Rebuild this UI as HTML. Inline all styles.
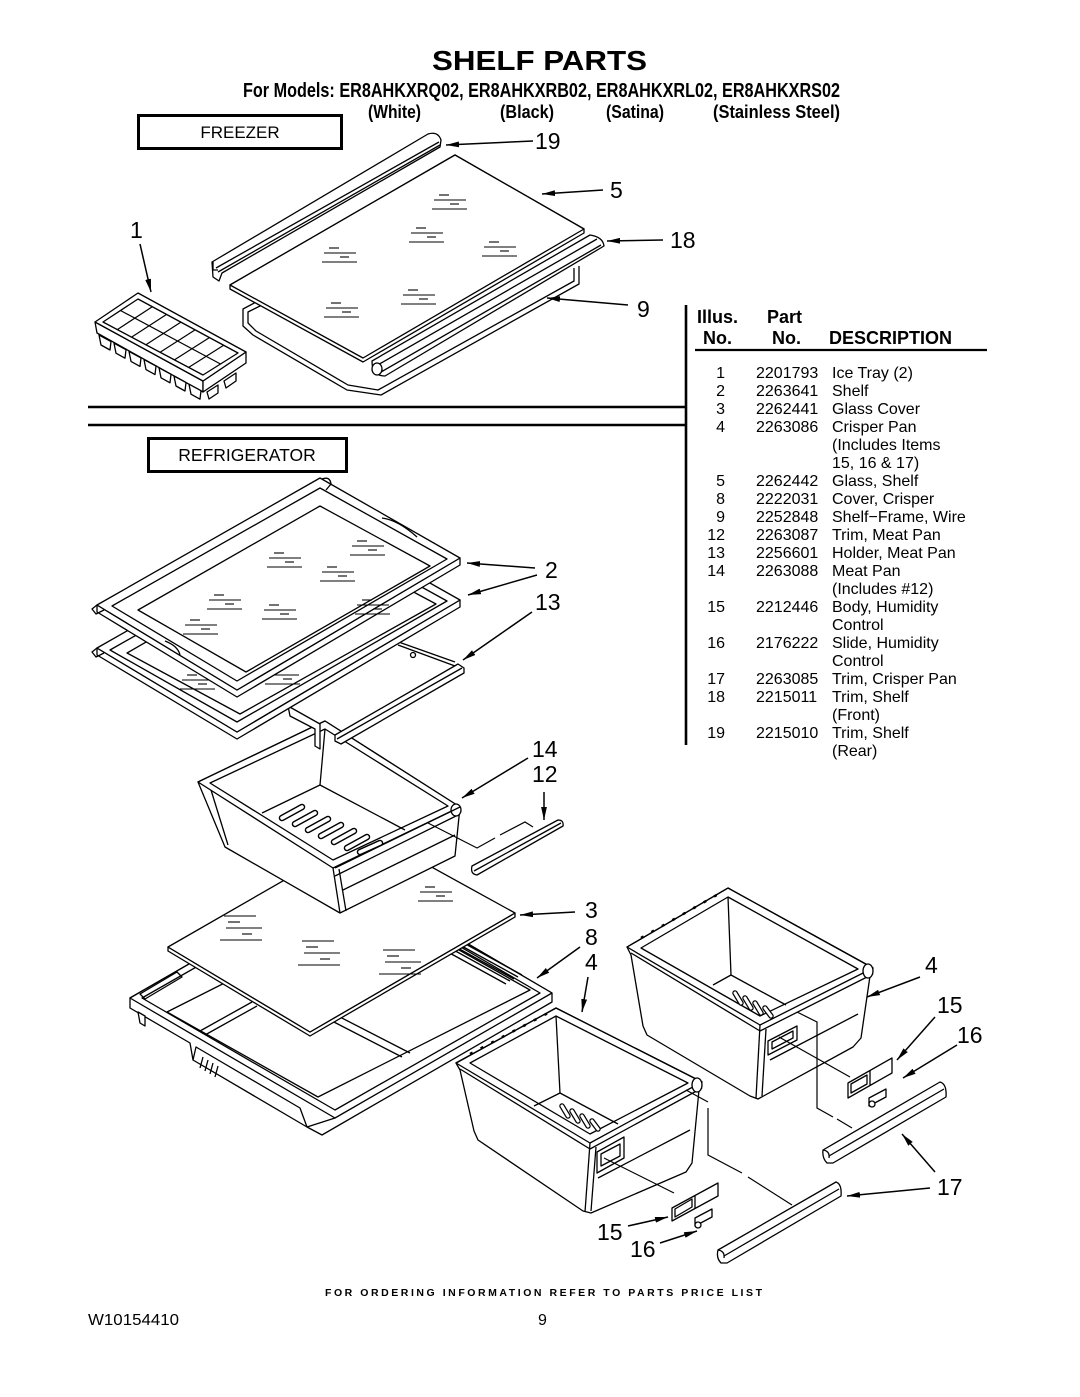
<!DOCTYPE html>
<html><head><meta charset="utf-8"><title>Shelf Parts</title>
<style>
html,body{margin:0;padding:0;background:#fff;width:1080px;height:1397px;overflow:hidden}
svg{display:block}
text{font-family:"Liberation Sans",Arial,sans-serif;fill:#000}
</style></head><body>
<svg xmlns="http://www.w3.org/2000/svg" width="1080" height="1397" viewBox="0 0 1080 1397">
<defs>
<marker id="a" markerUnits="userSpaceOnUse" markerWidth="14" markerHeight="7" refX="13" refY="3.5" orient="auto"><path d="M0,0.6 L13,3.5 L0,6.4 Z" fill="#000"/></marker>
<g id="gm" stroke="#000" stroke-width="1.1"><line x1="7" y1="0" x2="17" y2="0"/><line x1="2" y1="5" x2="34" y2="5"/><line x1="18" y1="9" x2="27" y2="9"/><line x1="0" y1="14" x2="35" y2="14"/></g>
<g id="gm2" stroke="#000" stroke-width="1.1"><line x1="6" y1="0" x2="38" y2="0"/><line x1="10" y1="6" x2="22" y2="6"/><line x1="8" y1="12" x2="44" y2="12"/><line x1="24" y1="18" x2="34" y2="18"/><line x1="2" y1="24" x2="44" y2="24"/></g>
</defs>

<!-- ===== HEADER ===== -->
<text x="432" y="70" font-size="28" font-weight="bold" textLength="215" lengthAdjust="spacingAndGlyphs">SHELF PARTS</text>
<text x="243" y="97" font-size="20" font-weight="bold" textLength="597" lengthAdjust="spacingAndGlyphs">For Models: ER8AHKXRQ02, ER8AHKXRB02, ER8AHKXRL02, ER8AHKXRS02</text>
<text x="368" y="118" font-size="18" font-weight="bold" textLength="53" lengthAdjust="spacingAndGlyphs">(White)</text>
<text x="500" y="118" font-size="18" font-weight="bold" textLength="54" lengthAdjust="spacingAndGlyphs">(Black)</text>
<text x="606" y="118" font-size="18" font-weight="bold" textLength="58" lengthAdjust="spacingAndGlyphs">(Satina)</text>
<text x="713" y="118" font-size="18" font-weight="bold" textLength="127" lengthAdjust="spacingAndGlyphs">(Stainless Steel)</text>

<!-- FREEZER box -->
<rect x="138.5" y="115.5" width="203" height="33" fill="none" stroke="#000" stroke-width="3"/>
<text x="240" y="138" font-size="17" text-anchor="middle">FREEZER</text>

<!-- Separator lines -->
<line x1="88" y1="407" x2="687" y2="407" stroke="#000" stroke-width="2.6"/>
<line x1="88" y1="425" x2="687" y2="425" stroke="#000" stroke-width="2.6"/>
<line x1="686" y1="305" x2="686" y2="745" stroke="#000" stroke-width="2.6"/>

<!-- REFRIGERATOR box -->
<rect x="148.5" y="438.5" width="198" height="33" fill="none" stroke="#000" stroke-width="3"/>
<text x="247" y="461" font-size="17.5" text-anchor="middle">REFRIGERATOR</text>

<!-- ===== TABLE ===== -->
<g font-weight="bold" font-size="18">
<text x="697" y="323">Illus.</text>
<text x="767" y="323">Part</text>
<text x="703" y="344">No.</text>
<text x="772" y="344">No.</text>
<text x="829" y="344">DESCRIPTION</text>
</g>
<line x1="695" y1="350" x2="987" y2="350" stroke="#000" stroke-width="2.2"/>
<g font-size="16">
<g text-anchor="end">
<text x="725" y="378">1</text><text x="725" y="396">2</text><text x="725" y="414">3</text><text x="725" y="432">4</text>
<text x="725" y="486">5</text><text x="725" y="504">8</text><text x="725" y="522">9</text><text x="725" y="540">12</text>
<text x="725" y="558">13</text><text x="725" y="576">14</text><text x="725" y="612">15</text><text x="725" y="648">16</text>
<text x="725" y="684">17</text><text x="725" y="702">18</text><text x="725" y="738">19</text>
</g>
<text x="756" y="378">2201793</text><text x="756" y="396">2263641</text><text x="756" y="414">2262441</text><text x="756" y="432">2263086</text>
<text x="756" y="486">2262442</text><text x="756" y="504">2222031</text><text x="756" y="522">2252848</text><text x="756" y="540">2263087</text>
<text x="756" y="558">2256601</text><text x="756" y="576">2263088</text><text x="756" y="612">2212446</text><text x="756" y="648">2176222</text>
<text x="756" y="684">2263085</text><text x="756" y="702">2215011</text><text x="756" y="738">2215010</text>
<text x="832" y="378">Ice Tray (2)</text>
<text x="832" y="396">Shelf</text>
<text x="832" y="414">Glass Cover</text>
<text x="832" y="432">Crisper Pan</text>
<text x="832" y="450">(Includes Items</text>
<text x="832" y="468">15, 16 &amp; 17)</text>
<text x="832" y="486">Glass, Shelf</text>
<text x="832" y="504">Cover, Crisper</text>
<text x="832" y="522">Shelf−Frame, Wire</text>
<text x="832" y="540">Trim, Meat Pan</text>
<text x="832" y="558">Holder, Meat Pan</text>
<text x="832" y="576">Meat Pan</text>
<text x="832" y="594">(Includes #12)</text>
<text x="832" y="612">Body, Humidity</text>
<text x="832" y="630">Control</text>
<text x="832" y="648">Slide, Humidity</text>
<text x="832" y="666">Control</text>
<text x="832" y="684">Trim, Crisper Pan</text>
<text x="832" y="702">Trim, Shelf</text>
<text x="832" y="720">(Front)</text>
<text x="832" y="738">Trim, Shelf</text>
<text x="832" y="756">(Rear)</text>
</g>

<!-- ===== FREEZER DRAWINGS ===== -->
<g fill="#fff" stroke="#000" stroke-width="1.3" stroke-linejoin="round">
<!-- wire shelf frame 9 -->
<polyline fill="none" points="258,301 243,309 243,326 253,335 347,390 381,395 579,284 579,266"/>
<polyline fill="none" points="262,305 248,312 248,323 256,331 348,385 378,390 574,281 574,268"/>
<!-- glass 5 -->
<polygon points="230,289 363,362 584,233 584,229 455,155 230,285"/>
<polygon points="230,285 455,155 584,229 363,358"/>
<!-- trim 18 front -->
<path d="M372,361 L590,235 Q603,237 604,246 L385,376 Q372,376 372,361 Z"/>
<line x1="376" y1="366" x2="597" y2="239"/>
<line x1="381" y1="372" x2="601" y2="245"/>
<ellipse cx="377" cy="369" rx="5" ry="6"/>
<!-- trim 19 rear -->
<path d="M212,262 L428,134 Q438,131 441,140 L440,147 L222,273 L219,281 L213,277 Z"/>
<line x1="216" y1="268" x2="439" y2="142"/>
<line x1="218" y1="272" x2="440" y2="145"/>
<path d="M213,262 L213,270 L218,270" fill="none"/>
<!-- ice tray 1 -->
<polygon points="95,322 203,381 203,392 97,333"/>
<polygon points="203,381 246,352 246,363 203,392"/>
<polygon points="99,335 111,341.5 110,350 101,345"/>
<polygon points="114,343.2 126,349.7 125,358.2 116,353.2"/>
<polygon points="129,351.4 141,357.9 140,366.4 131,361.4"/>
<polygon points="144,359.6 156,366.1 155,374.6 146,369.6"/>
<polygon points="159,367.8 171,374.3 170,382.8 161,377.8"/>
<polygon points="174,376 186,382.5 185,391 176,386"/>
<polygon points="189,384.2 201,390.7 200,399.2 191,394.2"/>
<polygon points="207,392 218,385 218,393 209,399"/>
<polygon points="224,381 236,373 236,381 226,388"/>
<polygon points="95,322 138,293 246,352 203,381"/>
<polygon points="103,322 138,299 238,353 203,375"/>
</g>
<g stroke="#000" stroke-width="1.2" fill="none">
<line x1="120.5" y1="310.5" x2="220.5" y2="364"/>
<line x1="117.3" y1="329.6" x2="152.3" y2="306.7"/>
<line x1="131.6" y1="337.1" x2="166.6" y2="314.4"/>
<line x1="145.9" y1="344.7" x2="180.9" y2="322.1"/>
<line x1="160.1" y1="352.3" x2="195.1" y2="329.9"/>
<line x1="174.4" y1="359.9" x2="209.4" y2="337.6"/>
<line x1="188.7" y1="367.4" x2="223.7" y2="345.3"/>
</g>
<use href="#gm" x="432" y="195"/>
<use href="#gm" x="409" y="228"/>
<use href="#gm" x="482" y="242"/>
<use href="#gm" x="322" y="248"/>
<use href="#gm" x="401" y="290"/>
<use href="#gm" x="324" y="303"/>

<!-- freezer callouts -->
<g font-size="23">
<text x="535" y="149">19</text>
<text x="610" y="198">5</text>
<text x="670" y="248">18</text>
<text x="637" y="317">9</text>
<text x="130" y="238">1</text>
</g>
<g stroke="#000" stroke-width="1.5" fill="none" marker-end="url(#a)">
<line x1="533" y1="141" x2="446" y2="145"/>
<line x1="603" y1="190" x2="542" y2="194"/>
<line x1="663" y1="240" x2="607" y2="241"/>
<line x1="628" y1="305" x2="547" y2="298"/>
<line x1="140" y1="244" x2="151" y2="292"/>
</g>

<!-- ===== REFRIGERATOR DRAWINGS ===== -->
<g fill="#fff" stroke="#000" stroke-width="1.3" stroke-linejoin="round">
<!-- crisper cover frame 8 -->
<polygon points="130,998 347,873 552,993 552,1002 322,1135 307,1127 193,1060 190,1043 130,1008"/>
<polygon points="130,998 347,873 552,993 335,1118"/>
<polygon fill="none" points="142,998 347,881 540,993 335,1110"/>
<polygon fill="none" points="167,1012 379,905 530,990 318,1097"/>
<polyline fill="none" points="307,1127 335,1118"/>
<polyline fill="none" points="193,1060 196,1047 300,1108 307,1127"/>
<polygon points="138,1012 145,1016 145,1026 140,1023"/>
<path fill="none" d="M140,994 L177,972 L182,977 L145,999 Z"/>
<line x1="200" y1="1031" x2="252" y2="1002"/>
<line x1="205" y1="1035" x2="257" y2="1006"/>
<line x1="330" y1="1020" x2="402" y2="1057"/>
<line x1="338" y1="1016" x2="410" y2="1053"/>
<line x1="446" y1="951" x2="506" y2="984"/>
<line x1="450" y1="948" x2="510" y2="981"/>
<line x1="454" y1="946" x2="514" y2="979"/>
<line x1="458" y1="944" x2="518" y2="977"/>
<line x1="462" y1="942" x2="522" y2="975"/>
<line x1="203" y1="1057" x2="200" y2="1068"/>
<line x1="208" y1="1060" x2="205" y2="1071"/>
<line x1="213" y1="1063" x2="210" y2="1074"/>
<line x1="218" y1="1066" x2="215" y2="1077"/>
<!-- glass cover 3 -->
<polygon points="168,947 168,951 310,1036 515,917 515,913 310,1032"/>
<polygon points="168,947 368,832 515,913 310,1032"/>
</g>
<use href="#gm2" x="218" y="916"/>
<use href="#gm2" x="296" y="941"/>
<use href="#gm2" x="377" y="950"/>
<use href="#gm" x="418" y="887"/>

<!-- meat pan 14 -->
<g fill="#fff" stroke="#000" stroke-width="1.3" stroke-linejoin="round">
<polygon points="198,782 325,721 460,807 455,856 340,913 225,847"/>
<polygon points="198,782 325,721 460,807 333,868"/>
<polygon fill="none" points="210,783 325,729 448,806 333,860"/>
<line x1="333" y1="868" x2="340" y2="913"/>
<line x1="339" y1="869" x2="346" y2="911"/>
<line x1="335" y1="876" x2="458" y2="815"/>
<line x1="343" y1="890" x2="455" y2="835"/>
<ellipse cx="456" cy="810" rx="5" ry="6"/>
<line x1="325" y1="729" x2="320" y2="785"/>
<polyline fill="none" points="262,813 320,785 405,830"/>
<line x1="211" y1="790" x2="228" y2="845"/>
</g>
<g stroke-linecap="round" fill="none">
<g stroke="#000" stroke-width="6.5">
<line x1="282" y1="818" x2="302" y2="807"/><line x1="295" y1="824" x2="315" y2="813"/><line x1="308" y1="830" x2="328" y2="819"/><line x1="321" y1="836" x2="341" y2="825"/><line x1="334" y1="842" x2="354" y2="831"/><line x1="347" y1="848" x2="367" y2="837"/><line x1="360" y1="852" x2="380" y2="843"/>
</g>
<g stroke="#fff" stroke-width="3.6">
<line x1="282" y1="818" x2="302" y2="807"/><line x1="295" y1="824" x2="315" y2="813"/><line x1="308" y1="830" x2="328" y2="819"/><line x1="321" y1="836" x2="341" y2="825"/><line x1="334" y1="842" x2="354" y2="831"/><line x1="347" y1="848" x2="367" y2="837"/><line x1="360" y1="852" x2="380" y2="843"/>
</g>
</g>
<line x1="335" y1="868" x2="460" y2="807" stroke="#000" stroke-width="1.3"/>

<!-- trim 12 -->
<g fill="#fff" stroke="#000" stroke-width="1.3" stroke-linejoin="round">
<path d="M472,866 L558,820 Q564,820 563,826 L477,875 Q470,874 472,866 Z"/>
<line x1="474" y1="871" x2="561" y2="823"/>
</g>
<path d="M428,823 L477,848 L495,838 M500,835 L525,822 L533,827" fill="none" stroke="#000" stroke-width="1.2"/>

<!-- holder 13 -->
<g fill="#fff" stroke="#000" stroke-width="1.3" stroke-linejoin="round">
<polygon points="288,706 320,724 320,749 315,746 315,729 290,716"/>
<line x1="393" y1="640" x2="455" y2="662"/>
<line x1="398" y1="645" x2="455" y2="666"/>
<polygon points="335,735 458,664 464,668 464,673 341,744 335,741"/>
<line x1="337" y1="739" x2="462" y2="668"/>
<circle cx="413" cy="655" r="2.5"/>
</g>

<!-- lower shelf 2 -->
<g fill="#fff" stroke="#000" stroke-width="1.3" stroke-linejoin="round">
<polygon points="97,648 97,655 237,739 460,607 460,600 237,732"/>
<polygon points="97,648 320,521 460,600 237,732"/>
<polygon fill="none" points="110,650 320,531 447,601 237,722"/>
<polygon fill="none" points="127,653 320,542 436,604 240,714"/>
<path d="M97,648 L92,652 L96,657 L104,653" fill="none"/>
</g>
<use href="#gm" x="180" y="675"/>
<use href="#gm" x="265" y="670"/>

<!-- upper shelf 2 -->
<g fill="#fff" stroke="#000" stroke-width="1.3" stroke-linejoin="round">
<polygon points="97,605 97,612 237,697 460,565 460,558 237,690"/>
<polygon points="97,605 320,478 460,558 237,690"/>
<polygon fill="none" points="112,606 320,488 447,559 237,681"/>
<polygon fill="none" points="138,610 320,506 430,566 246,672"/>
<path d="M97,605 L92,609 L96,614 L104,610" fill="none"/>
<path d="M322,479 Q330,476 331,484 L326,490" fill="none"/>
<path d="M382,518 Q398,520 417,537" fill="none"/>
<path d="M165,641 Q178,646 180,655" fill="none"/>
</g>
<use href="#gm" x="267" y="553"/>
<use href="#gm" x="320" y="567"/>
<use href="#gm" x="350" y="541"/>
<use href="#gm" x="207" y="595"/>
<use href="#gm" x="262" y="605"/>
<use href="#gm" x="183" y="620"/>
<use href="#gm" x="355" y="600"/>

<!-- right crisper bin 4 -->
<g fill="#fff" stroke="#000" stroke-width="1.3" stroke-linejoin="round">
<polygon points="627,947 728,888 873,968 870,976 861,1038 853,1047 758,1099 750,1096 647,1035 643,1026 631,955"/>
<polygon fill="none" points="627,947 728,888 873,968 760,1025"/>
<polygon fill="none" points="641,948 728,897 858,969 760,1016"/>
<line x1="631" y1="953" x2="760" y2="1031"/>
<line x1="760" y1="1031" x2="873" y2="974"/>
<line x1="760" y1="1025" x2="756" y2="1098"/>
<line x1="766" y1="1029" x2="762" y2="1096"/>
<line x1="770" y1="1060" x2="858" y2="1014"/>
<ellipse cx="868" cy="971" rx="5" ry="7"/>
<line x1="728" y1="897" x2="731" y2="975"/>
<polyline fill="none" points="713,985 731,975 786,1005"/>
<polygon points="768,1041 797,1026 797,1040 768,1055"/>
<polygon fill="none" points="772,1042 793,1031 793,1038 772,1049"/>
</g>
<g stroke-linecap="round" fill="none">
<g stroke="#000" stroke-width="5.5"><line x1="735" y1="993" x2="741" y2="1003"/><line x1="745" y1="998" x2="751" y2="1008"/><line x1="755" y1="1003" x2="761" y2="1013"/><line x1="765" y1="1008" x2="771" y2="1016"/></g>
<g stroke="#fff" stroke-width="3"><line x1="735" y1="993" x2="741" y2="1003"/><line x1="745" y1="998" x2="751" y2="1008"/><line x1="755" y1="1003" x2="761" y2="1013"/><line x1="765" y1="1008" x2="771" y2="1016"/></g>
</g>
<line x1="641" y1="938" x2="722" y2="892" stroke="#000" stroke-width="2.5" stroke-dasharray="3,9"/>

<!-- lower crisper bin 4 -->
<g fill="#fff" stroke="#000" stroke-width="1.3" stroke-linejoin="round">
<polygon points="456,1063 556,1008 702,1082 699,1090 692,1163 686,1172 591,1213 583,1211 478,1140 474,1131 460,1070"/>
<polygon fill="none" points="456,1063 556,1008 702,1082 590,1143"/>
<polygon fill="none" points="470,1063 556,1016 688,1083 590,1134"/>
<line x1="460" y1="1069" x2="590" y2="1149"/>
<line x1="590" y1="1149" x2="702" y2="1088"/>
<line x1="590" y1="1143" x2="585" y2="1212"/>
<line x1="596" y1="1147" x2="591" y2="1211"/>
<line x1="598" y1="1178" x2="690" y2="1130"/>
<ellipse cx="697" cy="1085" rx="5" ry="7"/>
<line x1="556" y1="1016" x2="560" y2="1093"/>
<polyline fill="none" points="534,1106 560,1093 618,1124"/>
<polygon points="597,1152 624,1137 624,1158 597,1173"/>
<polygon fill="none" points="601,1154 620,1144 620,1156 601,1166"/>
</g>
<g stroke-linecap="round" fill="none">
<g stroke="#000" stroke-width="5.5"><line x1="562" y1="1106" x2="568" y2="1116"/><line x1="572" y1="1111" x2="578" y2="1121"/><line x1="582" y1="1116" x2="588" y2="1126"/><line x1="592" y1="1121" x2="598" y2="1129"/></g>
<g stroke="#fff" stroke-width="3"><line x1="562" y1="1106" x2="568" y2="1116"/><line x1="572" y1="1111" x2="578" y2="1121"/><line x1="582" y1="1116" x2="588" y2="1126"/><line x1="592" y1="1121" x2="598" y2="1129"/></g>
</g>
<line x1="470" y1="1054" x2="550" y2="1012" stroke="#000" stroke-width="2.5" stroke-dasharray="3,9"/>

<!-- humidity controls 15/16 -->
<g fill="#fff" stroke="#000" stroke-width="1.3" stroke-linejoin="round">
<polygon points="848,1083 892,1058 892,1073 848,1098"/>
<line x1="870" y1="1071" x2="870" y2="1086"/>
<polygon fill="none" points="851,1084 867,1075 867,1084 851,1093"/>
<polygon points="869,1098 886,1089 886,1097 869,1106"/>
<circle cx="872" cy="1104" r="3"/>
<polygon points="672,1208 718,1183 718,1196 672,1221"/>
<line x1="695" y1="1196" x2="695" y2="1209"/>
<polygon fill="none" points="675,1209 692,1199 692,1207 675,1217"/>
<polygon points="695,1218 712,1209 712,1217 695,1226"/>
<circle cx="698" cy="1225" r="3"/>
</g>

<!-- trims 17 -->
<g fill="#fff" stroke="#000" stroke-width="1.3" stroke-linejoin="round">
<path d="M823,1150 L940,1082 Q947,1084 946,1097 L833,1163 L827,1163 Q822,1158 823,1150 Z"/>
<path d="M823,1150 Q830,1151 829,1158" fill="none"/>
<line x1="829" y1="1156" x2="944" y2="1089"/>
<path d="M718,1250 L836,1182 Q842,1184 841,1196 L727,1263 L721,1263 Q716,1258 718,1250 Z"/>
<path d="M718,1250 Q725,1251 724,1258" fill="none"/>
<line x1="724" y1="1256" x2="839" y2="1189"/>
</g>

<!-- leader lines -->
<g stroke="#000" stroke-width="1.2" fill="none">
<line x1="604" y1="1158" x2="674" y2="1193"/>
<path d="M686,1090 L708,1102 M708,1108 L708,1155 L742,1173 M748,1177 L792,1205"/>
<line x1="779" y1="1037" x2="850" y2="1077"/>
<path d="M797,1012 L817,1022 L817,1108 L833,1117 M837,1119 L852,1128"/>
</g>

<!-- refrigerator callouts -->
<g font-size="23">
<text x="545" y="578">2</text>
<text x="535" y="610">13</text>
<text x="532" y="757">14</text>
<text x="532" y="782">12</text>
<text x="585" y="918">3</text>
<text x="585" y="945">8</text>
<text x="585" y="970">4</text>
<text x="925" y="973">4</text>
<text x="937" y="1013">15</text>
<text x="957" y="1043">16</text>
<text x="937" y="1195">17</text>
<text x="597" y="1240">15</text>
<text x="630" y="1257">16</text>
</g>
<g stroke="#000" stroke-width="1.5" fill="none" marker-end="url(#a)">
<line x1="535" y1="568" x2="467" y2="563"/>
<line x1="537" y1="575" x2="468" y2="595"/>
<line x1="532" y1="612" x2="463" y2="660"/>
<line x1="528" y1="758" x2="462" y2="798"/>
<line x1="544" y1="792" x2="544" y2="820"/>
<line x1="575" y1="912" x2="520" y2="915"/>
<line x1="580" y1="947" x2="537" y2="978"/>
<line x1="588" y1="977" x2="582" y2="1012"/>
<line x1="920" y1="977" x2="867" y2="997"/>
<line x1="935" y1="1017" x2="897" y2="1060"/>
<line x1="957" y1="1045" x2="903" y2="1078"/>
<line x1="930" y1="1188" x2="847" y2="1196"/>
<line x1="935" y1="1172" x2="902" y2="1134"/>
<line x1="628" y1="1226" x2="668" y2="1217"/>
<line x1="660" y1="1243" x2="697" y2="1231"/>
</g>

<!-- ===== FOOTER ===== -->
<text x="325" y="1296" font-size="10.5" font-weight="bold" textLength="437" lengthAdjust="spacing">FOR ORDERING INFORMATION REFER TO PARTS PRICE LIST</text>
<text x="88" y="1325" font-size="16" textLength="91" lengthAdjust="spacingAndGlyphs">W10154410</text>
<text x="538" y="1325" font-size="16">9</text>
</svg>
</body></html>
